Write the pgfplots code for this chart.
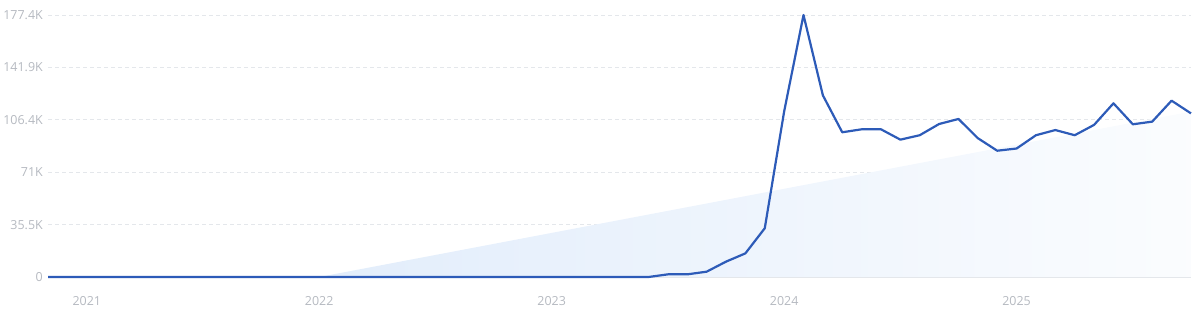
\documentclass[border=0pt]{standalone}
\usepackage{pgfplots}
\pgfplotsset{compat=1.18}
\usepackage{fontspec}
\setmainfont{Open Sans}
\definecolor{lineblue}{HTML}{2D5BB8}
\definecolor{lbl}{HTML}{B5B9C0}
\definecolor{gridc}{HTML}{E4E7EB}
\definecolor{fillc}{HTML}{E2EDFB}
\begin{document}
\begin{tikzpicture}[x=1bp,y=1bp]
\path[use as bounding box] (0,0) rectangle (1200,315);
\begin{axis}[
  at={(48bp,38bp)}, anchor=south west, scale only axis,
  width=1143bp, height=262bp,
  xmin=-2, xmax=57, ymin=0, ymax=177400,
  clip=false,
  axis line style={draw=none},
  xtick={0,12,24,36,48}, xticklabels={2021,2022,2023,2024,2025},
  ytick={0,35480,70960,106440,141920,177400},
  yticklabels={0,35.5K,71K,106.4K,141.9K,177.4K},
  scaled y ticks=false,
  tick style={draw=none},
  major tick length=0pt,
  ymajorgrids, grid style={gridc, dash pattern=on 3.5bp off 3.5bp, line width=0.8bp},
  every tick label/.append style={font=\fontsize{12.5}{14}\selectfont, text=lbl, inner sep=0pt},
  yticklabel shift=5bp,
  xticklabel shift=19.5bp,
]
\addplot[draw=none, left color=fillc, right color=fillc!15] coordinates {(12,0) (57,112000)} \closedcycle;
\addplot[gridc, line width=1bp] coordinates {(-2,0) (57,0)};
\addplot[lineblue, line width=2.2bp, line join=round] coordinates {
(-2,0) (-1,0) (0,0) (1,0) (2,0) (3,0) (4,0) (5,0) (6,0) (7,0) (8,0) (9,0)
(10,0) (11,0) (12,0) (13,0) (14,0) (15,0) (16,0) (17,0) (18,0) (19,0) (20,0) (21,0)
(22,0) (23,0) (24,0) (25,0) (26,0) (27,0) (28,0) (29,0)
(30,1800) (31,1800) (32,3600) (33,10400) (34,16000) (35,33000)
(36,112000) (37,177400) (38,123000) (39,98000) (40,100000) (41,100000)
(42,93000) (43,96000) (44,103600) (45,107000) (46,94000) (47,85500)
(48,87000) (49,96000) (50,99500) (51,96000) (52,103000) (53,117600)
(54,103400) (55,105200) (56,119400) (57,110800)
};
\end{axis}
\end{tikzpicture}
\end{document}
